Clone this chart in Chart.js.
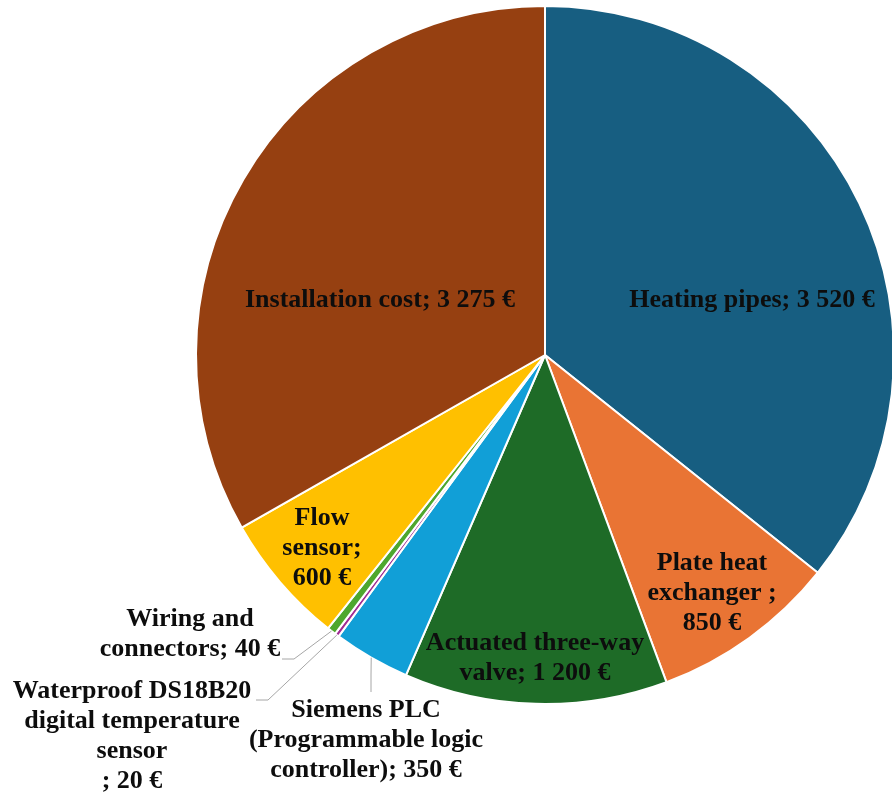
<!DOCTYPE html>
<html>
<head>
<meta charset="utf-8">
<script src="https://cdn.jsdelivr.net/npm/chart.js@4/dist/chart.umd.min.js"></script>
<style>
  html, body { margin: 0; padding: 0; background: #ffffff; overflow: hidden; }
  #wrap { width: 892px; height: 794px; overflow: hidden; }
  canvas { display: block; }
</style>
</head>
<body>
<div id="wrap"><canvas id="cost" width="900" height="794"></canvas></div>
<script>
// Cost breakdown of the heating installation (€)
const categories = [
  'Heating pipes',
  'Plate heat exchanger',
  'Actuated three-way valve',
  'Siemens PLC (Programmable logic controller)',
  'Waterproof DS18B20 digital temperature sensor',
  'Wiring and connectors',
  'Flow sensor',
  'Installation cost'
];
const costs = [3520, 850, 1200, 350, 20, 40, 600, 3275];
const sliceColors = ['#175E81', '#E97434', '#1E6B27', '#119FD7', '#A02B93', '#4EA72E', '#FFC000', '#964011'];

// Label text, line by line; {v} is replaced by the formatted value
const labelLines = [
  ['Heating pipes; {v}'],
  ['Plate heat', 'exchanger ;', '{v}'],
  ['Actuated three-way', 'valve; {v}'],
  ['Siemens PLC', '(Programmable logic', 'controller); {v}'],
  ['Waterproof DS18B20', 'digital temperature', 'sensor', '; {v}'],
  ['Wiring and', 'connectors; {v}'],
  ['Flow', 'sensor;', '{v}'],
  ['Installation cost; {v}']
];

function formatEuro(v) {
  return String(v).replace(/\B(?=(\d{3})+(?!\d))/g, ' ') + ' €';
}

// Label block centres, as offsets from the pie centre (px)
const labelOffsets = [
  [207, -55], [167, 238], [-10, 303], [-179, 385],
  [-413, 381], [-355, 279], [-223, 193], [-165, -55]
];
// Leader lines for the labels drawn outside the pie: bend point and end point offsets
const leaders = {
  3: [[-174, 320], [-174, 337]],
  4: [[-277, 345], [-289, 345]],
  5: [[-251, 304], [-263, 304]]
};

const FONT = "bold 26px 'Liberation Serif', 'Times New Roman', serif";
const LINE_H = 30;

const sliceLabels = {
  id: 'sliceLabels',
  afterDatasetsDraw(chart) {
    const ctx = chart.ctx;
    const arcs = chart.getDatasetMeta(0).data;
    const ds = chart.data.datasets[0];
    ctx.save();
    // leader lines
    ctx.strokeStyle = '#A6A6A6';
    ctx.lineWidth = 1;
    Object.keys(leaders).forEach(k => {
      const i = Number(k);
      const a = arcs[i];
      const mid = (a.startAngle + a.endAngle) / 2;
      const sx = a.x + Math.cos(mid) * a.outerRadius;
      const sy = a.y + Math.sin(mid) * a.outerRadius;
      ctx.beginPath();
      ctx.moveTo(sx, sy);
      leaders[k].forEach(p => ctx.lineTo(a.x + p[0], a.y + p[1]));
      ctx.stroke();
    });
    // text
    ctx.font = FONT;
    ctx.fillStyle = '#0D0D0D';
    ctx.textAlign = 'center';
    ctx.textBaseline = 'middle';
    arcs.forEach((a, i) => {
      const lines = labelLines[i].map(s => s.replace('{v}', formatEuro(ds.data[i])));
      const cx = a.x + labelOffsets[i][0];
      const cy = a.y + labelOffsets[i][1];
      const top = cy - (lines.length - 1) * LINE_H / 2;
      lines.forEach((ln, j) => ctx.fillText(ln, cx, top + j * LINE_H));
    });
    ctx.restore();
  }
};

new Chart(document.getElementById('cost'), {
  type: 'pie',
  data: {
    labels: categories,
    datasets: [{
      data: costs,
      backgroundColor: sliceColors,
      borderColor: '#FFFFFF',
      borderWidth: 2
    }]
  },
  options: {
    responsive: false,
    animation: false,
    devicePixelRatio: 1,
    layout: { padding: { left: 195, right: 5, top: 5, bottom: 89 } },
    plugins: {
      legend: { display: false },
      tooltip: { enabled: false }
    }
  },
  plugins: [sliceLabels]
});
</script>
</body>
</html>
